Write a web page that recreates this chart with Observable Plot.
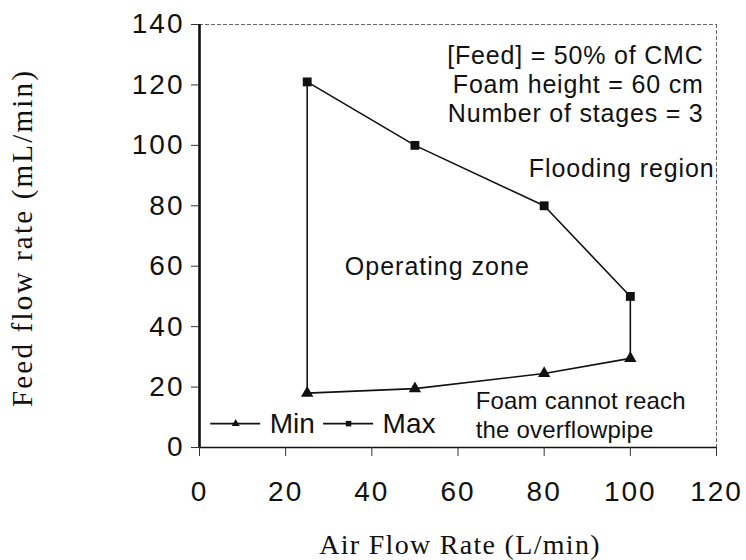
<!DOCTYPE html>
<html>
<head>
<meta charset="utf-8">
<script src="https://cdn.jsdelivr.net/npm/d3@7"></script>
<script src="https://cdn.jsdelivr.net/npm/@observablehq/plot@0.6"></script>
<style>
  html, body { margin: 0; padding: 0; background: #fff; }
  #chart svg { display: block; }
</style>
</head>
<body>
<div id="chart"></div>
<script>
// Operating window of the multistage foam column
const airFlow = [25, 50, 80, 100];          // L/min
const feedMin = [18, 19.5, 24.5, 29.5];     // mL/min, lowest workable feed
const feedMax = [121, 100, 80, 50];         // mL/min, onset of flooding
const seriesNames = ["Min", "Max"];
const xTicks = [0, 20, 40, 60, 80, 100, 120];
const yTicks = [0, 20, 40, 60, 80, 100, 120, 140];
const conditions = ["[Feed] = 50% of CMC", "Foam height = 60 cm", "Number of stages = 3"];
const xTitle = "Air Flow Rate (L/min)";
const yTitle = "Feed flow rate (mL/min)";

const rows = airFlow.map((x, i) => ({x, min: feedMin[i], max: feedMax[i]}));
const ends = [rows[0], rows[rows.length - 1]];
const symbols = {Min: "triangle", Max: "square"};
const legend = seriesNames.map((name, i) => ({name, symbol: symbols[name], i}));

const sans = "'Liberation Sans', Arial, sans-serif";
const serif = "'Liberation Serif', 'Times New Roman', serif";
const ink = "#111";

// legend sits inside the frame, bottom-left; entries are spaced evenly
const lgY = 7.9, lgStep = 26.2, lgX0 = 2.6, lgLen = 11.6;

const chart = Plot.plot({
  width: 746,
  height: 560,
  marginLeft: 199,
  marginRight: 30,
  marginTop: 24,
  marginBottom: 113,
  style: {fontFamily: sans, color: ink, background: "#fff", overflow: "visible"},
  x: {domain: [xTicks[0], xTicks[xTicks.length - 1]]},
  y: {domain: [yTicks[0], yTicks[yTicks.length - 1]]},
  marks: [
    // frame: solid axes on left/bottom, light dashed edges on top/right
    Plot.ruleY([yTicks[yTicks.length - 1]], {stroke: "#666", strokeWidth: 1, strokeDasharray: "4 2"}),
    Plot.ruleX([xTicks[xTicks.length - 1]], {stroke: "#666", strokeWidth: 1, strokeDasharray: "4 2"}),
    Plot.ruleY([yTicks[0]], {stroke: ink, strokeWidth: 1.6}),
    Plot.ruleX([xTicks[0]], {stroke: ink, strokeWidth: 2.6}),

    Plot.axisX({ticks: xTicks, tickSize: 9, tickPadding: 25, fontSize: 28, label: null, stroke: "#333"}),
    Plot.axisY({ticks: yTicks, tickSize: 8, tickPadding: 7, fontSize: 28, label: null, stroke: "#333"}),

    // operating envelope
    Plot.line(rows, {x: "x", y: "max", stroke: ink, strokeWidth: 1.6}),
    Plot.line(rows, {x: "x", y: "min", stroke: ink, strokeWidth: 1.6}),
    Plot.ruleX(ends, {x: "x", y1: "min", y2: "max", stroke: ink, strokeWidth: 1.6}),
    Plot.dot(rows, {x: "x", y: "max", symbol: "square", r: 5, fill: ink, stroke: null}),
    Plot.dot(rows, {x: "x", y: "min", symbol: "triangle", r: 4.6, fill: ink, stroke: null}),

    // region annotations
    Plot.text([conditions.join("\n")], {x: 117, y: 107.6, text: d => d, textAnchor: "end",
      lineAnchor: "bottom", lineHeight: 1.16, fontSize: 25, fill: ink}),
    Plot.text(["Flooding region"], {x: 98, y: 89.4, text: d => d, textAnchor: "middle",
      lineAnchor: "bottom", fontSize: 25, fill: ink}),
    Plot.text(["Operating zone"], {x: 55.2, y: 57, text: d => d, textAnchor: "middle",
      lineAnchor: "bottom", fontSize: 25, fill: ink}),
    Plot.text(["Foam cannot reach\nthe overflowpipe"], {x: 64.1, y: 3.3, text: d => d, textAnchor: "start",
      lineAnchor: "bottom", lineHeight: 1.17, fontSize: 24, fill: ink}),

    // legend
    Plot.ruleY(legend, {y: () => lgY, x1: d => lgX0 + d.i * lgStep, x2: d => lgX0 + d.i * lgStep + lgLen,
      stroke: ink, strokeWidth: 1.6}),
    Plot.dot(legend, {x: d => lgX0 + d.i * lgStep + lgLen / 2, y: () => lgY, symbol: "symbol",
      r: d => d.symbol === "square" ? 5 : 4.6, fill: ink, stroke: null}),
    Plot.text(legend, {x: d => lgX0 + d.i * lgStep + lgLen + 2.1, y: () => lgY, text: "name",
      textAnchor: "start", fontSize: 28, fill: ink}),

    // axis titles
    Plot.text([xTitle], {frameAnchor: "bottom", dx: 2, dy: 106, text: d => d, textAnchor: "middle",
      lineAnchor: "bottom", fontSize: 28, fontFamily: serif, fill: ink}),
    Plot.text([yTitle], {frameAnchor: "left", dx: -177, dy: 2, rotate: -90, text: d => d,
      textAnchor: "middle", lineAnchor: "middle", fontSize: 29, fontFamily: serif, fill: ink})
  ]
});

// loose letter spacing, typical of the original typesetting
const svg = d3.select(chart);
svg.selectAll("g[aria-label='x-axis tick label'], g[aria-label='y-axis tick label']")
  .attr("letter-spacing", 2);
const spacing = new Map([
  [xTitle, 1.3], [yTitle, 2.2],
  ["Flooding region", 0.9], ["Operating zone", 1.0]
]);
svg.selectAll("text").each(function () {
  const t = this.textContent;
  if (spacing.has(t)) this.setAttribute("letter-spacing", spacing.get(t));
  else if (t.startsWith("[Feed]")) this.setAttribute("letter-spacing", 0.8);
  else if (t.startsWith("Foam cannot")) this.setAttribute("letter-spacing", 0.2);
});

document.getElementById("chart").append(chart);
</script>
</body>
</html>
